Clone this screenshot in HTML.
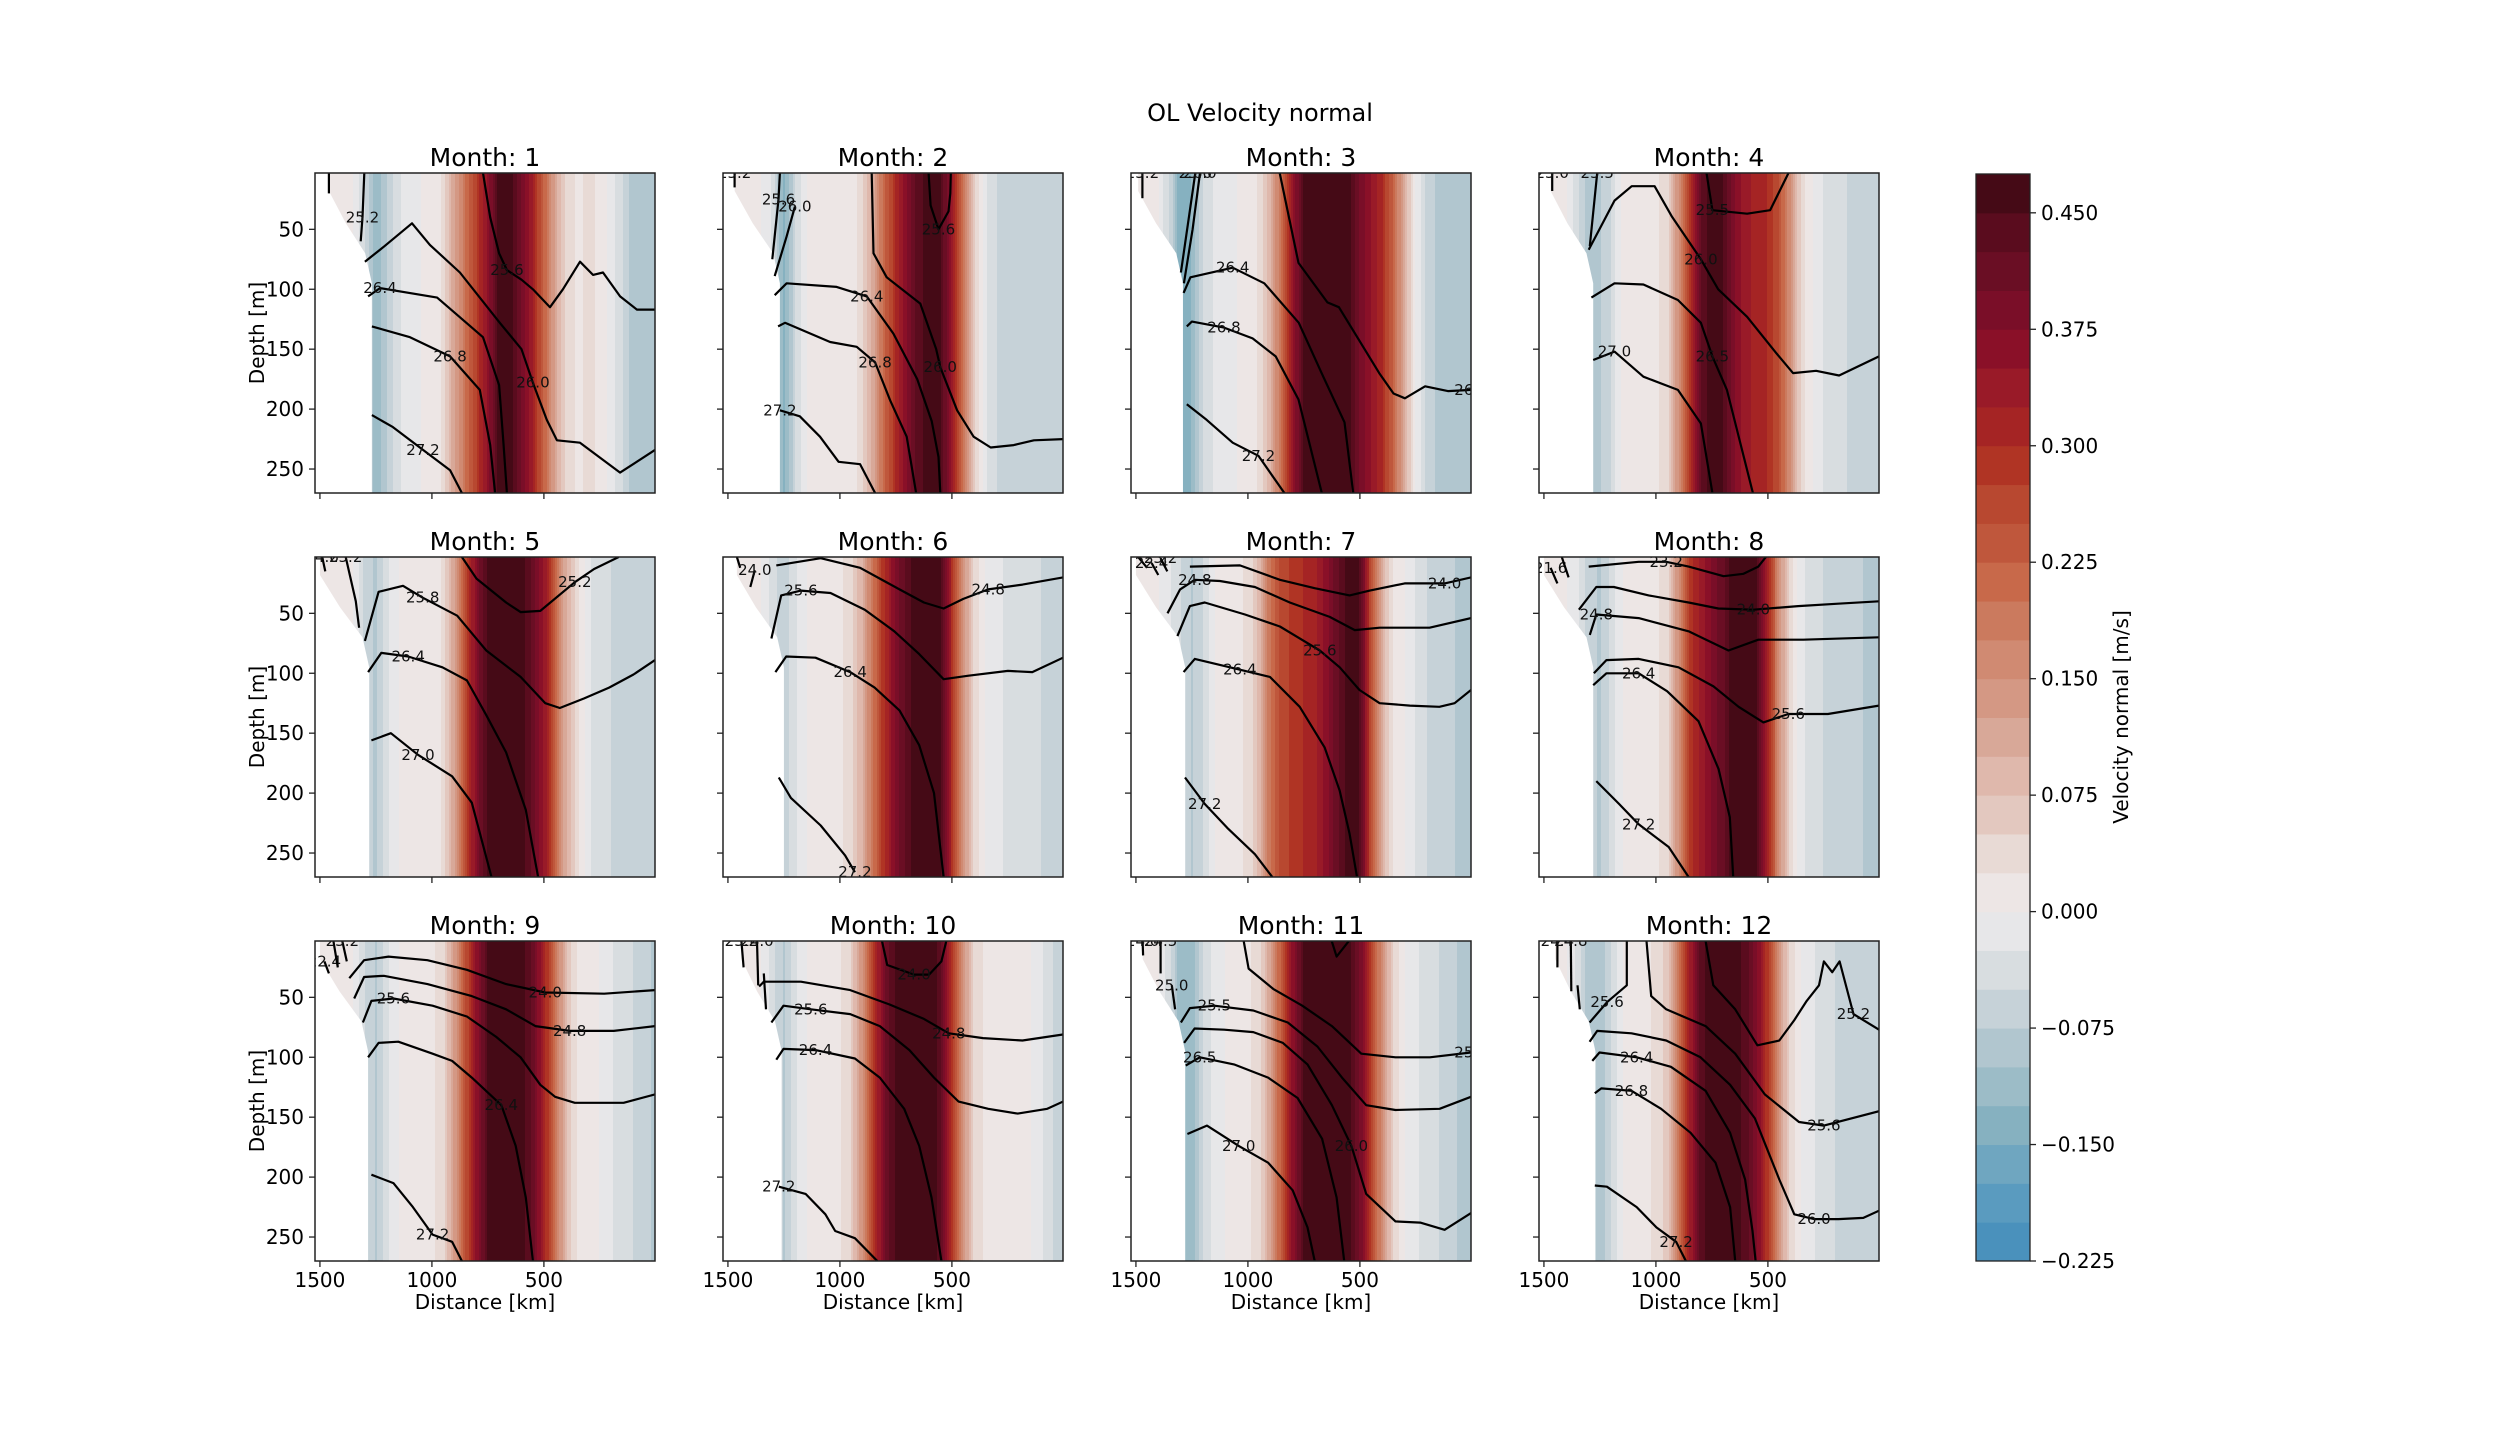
<!DOCTYPE html>
<html><head><meta charset="utf-8"><style>
html,body{margin:0;padding:0;background:#fff;}
svg{display:block;font-family:"DejaVu Sans","Liberation Sans",sans-serif;}
</style></head><body>
<svg id="fig" width="2520" height="1440" viewBox="0 0 2520 1440" xmlns="http://www.w3.org/2000/svg">
<rect width="2520" height="1440" fill="#fff"/>
<text x="1260" y="121" text-anchor="middle" font-size="24">OL Velocity normal</text>
<g id="panels"></g>
<g id="cbar"></g>
</svg>
<script>
// ---- data ----
const months = [1,2,3,4,5,6,7,8,9,10,11,12];
const profileKm = [1500,1450,1400,1350,1300,1250,1200,1150,1100,1050,1000,950,900,850,800,750,700,650,600,550,500,450,400,350,300,250,200,150,100,50,0];
const velM1 = [0,0,0,0,-0.05,-0.12,-0.07,-0.03,-0.01,0,0,0.03,0.12,0.2,0.28,0.36,0.46,0.47,0.4,0.32,0.22,0.12,0.04,0.02,0.03,0.02,-0.01,-0.05,-0.09,-0.1,-0.1];
const velM2 = [0,0,0,0,-0.03,-0.14,-0.05,0,0.01,0.01,0.01,0.01,0.04,0.12,0.22,0.3,0.38,0.44,0.47,0.45,0.35,0.2,0.06,-0.02,-0.05,-0.06,-0.06,-0.07,-0.07,-0.07,-0.07];
const velM3 = [0,0,0,-0.05,-0.15,-0.12,-0.05,-0.02,-0.01,0,0.01,0.03,0.1,0.2,0.35,0.45,0.47,0.47,0.47,0.47,0.4,0.35,0.3,0.22,0.1,0,-0.06,-0.08,-0.09,-0.09,-0.08];
const velM4 = [0,0,0,-0.04,-0.1,-0.08,-0.05,0.01,0.02,0.01,0.02,0.04,0.15,0.28,0.42,0.47,0.45,0.38,0.33,0.32,0.3,0.25,0.15,0.04,0,-0.03,-0.04,-0.05,-0.06,-0.07,-0.07];
const velM5 = [0,0,0,0,-0.06,-0.08,-0.03,0,0.01,0.01,0.01,0.03,0.12,0.25,0.38,0.46,0.47,0.47,0.46,0.42,0.35,0.22,0.1,0.03,-0.02,-0.04,-0.05,-0.06,-0.07,-0.07,-0.06];
const velM6 = [0,0,0,0,-0.04,-0.07,-0.03,0,0.01,0.02,0.02,0.04,0.1,0.2,0.3,0.38,0.44,0.47,0.47,0.45,0.3,0.15,0.04,0,-0.02,-0.03,-0.04,-0.04,-0.05,-0.06,-0.06];
const velM7 = [0,0,0,-0.02,-0.05,-0.08,-0.05,0,0.01,0.02,0.03,0.08,0.2,0.26,0.28,0.3,0.32,0.36,0.42,0.47,0.45,0.25,0.1,0.02,0,-0.03,-0.05,-0.06,-0.07,-0.08,-0.1];
const velM8 = [0,0,0,-0.02,-0.06,-0.08,-0.04,0,0.01,0.01,0.02,0.04,0.15,0.28,0.33,0.38,0.42,0.47,0.47,0.46,0.32,0.15,0.04,-0.02,-0.04,-0.05,-0.05,-0.06,-0.07,-0.08,-0.09];
const velM9 = [0,0,0,0,-0.05,-0.08,-0.03,0,0.01,0.01,0.02,0.04,0.13,0.25,0.36,0.45,0.47,0.47,0.47,0.42,0.32,0.2,0.08,0.02,0.01,0,-0.02,-0.04,-0.05,-0.07,-0.08];
const velM10 = [0,0,0,0,-0.04,-0.08,-0.03,0,0.01,0.01,0.02,0.05,0.15,0.28,0.4,0.46,0.47,0.47,0.47,0.44,0.3,0.15,0.04,0.02,0.02,0.02,0.01,0,-0.02,-0.05,-0.07];
const velM11 = [0,0,0,-0.04,-0.12,-0.12,-0.05,-0.01,0,0.01,0.02,0.04,0.12,0.24,0.36,0.45,0.47,0.47,0.47,0.47,0.4,0.28,0.15,0.05,0,-0.02,-0.04,-0.05,-0.06,-0.08,-0.1];
const velM12 = [0,0,0,-0.03,-0.1,-0.1,-0.05,0,0.01,0.02,0.03,0.06,0.18,0.32,0.44,0.47,0.47,0.47,0.44,0.38,0.28,0.14,0.04,0,-0.02,-0.04,-0.05,-0.05,-0.06,-0.06,-0.05];
const velocity = [velM1,velM2,velM3,velM4,velM5,velM6,velM7,velM8,velM9,velM10,velM11,velM12];
const maskSurfKm = [1460,1470,1490,1470,1500,1460,1500,1500,1500,1440,1470,1450];
const maskDeepKm = [1268,1268,1290,1280,1280,1250,1280,1280,1285,1260,1280,1270];
const yTicks = [50,100,150,200,250];
const xTicks = [1500,1000,500];
const cbTicks = [-0.225,-0.150,-0.075,0.000,0.075,0.150,0.225,0.300,0.375,0.450];

const ctM1 = [
 ['25.6',3,[[772,3],[740,40],[700,70],[665,84],[600,92],[549,100],[473,115],[415,100],[339,77],[281,88],[236,86],[160,106],[85,117],[4,117]]],
 ['26.0',7,[[1299,77],[1218,65],[1089,45],[1009,63],[875,86],[697,128],[600,150],[549,178],[487,209],[442,226],[339,228],[160,253],[4,234]]],
 ['26.4',1,[[1285,106],[1232,99],[977,107],[772,140],[700,180],[680,230],[665,270]]],
 ['26.8',2,[[1268,131],[1098,140],[919,156],[786,184],[740,230],[718,270]]],
 ['27.2',2,[[1268,205],[1174,215],[1040,234],[919,251],[866,270]]],
 ['25.2',1,[[1302,3],[1310,40],[1318,60]]],
 ['',0,[[1460,3],[1460,20]]]
];
const ctM2 = [
 ['25.6',2,[[604,3],[595,30],[560,50],[515,35],[507,20],[505,3]]],
 ['26.0',5,[[858,3],[850,70],[791,90],[641,112],[570,150],[552,165],[477,201],[403,223],[327,232],[224,230],[134,226],[4,225]]],
 ['26.4',3,[[1291,105],[1238,95],[1015,98],[880,106],[761,137],[655,175],[590,210],[560,240],[552,270]]],
 ['26.8',4,[[1276,131],[1245,128],[1044,144],[925,148],[843,161],[775,193],[702,223],[660,270]]],
 ['27.2',0,[[1268,201],[1179,206],[1089,223],[1006,244],[910,246],[843,270]]],
 ['25.6',1,[[1268,3],[1274,25],[1302,75]]],
 ['26.0',0,[[1201,31],[1238,56],[1291,89]]],
 ['25.2',0,[[1470,3],[1470,15]]]
];
const ctM3 = [
 ['26.0',9,[[858,3],[774,78],[645,111],[594,115],[414,170],[350,187],[299,191],[209,181],[107,185],[4,184]]],
 ['26.4',2,[[1287,103],[1257,90],[1068,82],[927,95],[773,128],[671,170],[569,211],[530,270]]],
 ['26.8',2,[[1273,131],[1250,127],[1107,132],[979,141],[876,156],[774,192],[670,270]]],
 ['27.2',3,[[1273,196],[1184,209],[1068,228],[953,239],[837,270]]],
 ['25.2',0,[[1471,3],[1471,24]]],
 ['25.6',0,[[1235,3],[1299,86]]],
 ['26.0',0,[[1214,3],[1247,50],[1286,95]]]
];
const ctM4 = [
 ['25.5',1,[[774,3],[748,34],[593,37],[490,34],[408,3]]],
 ['26.0',5,[[1300,67],[1185,26],[1108,14],[1006,14],[930,39],[799,75],[722,100],[593,123],[464,153],[388,170],[285,168],[182,172],[4,156]]],
 ['26.5',5,[[1288,107],[1185,95],[1056,96],[902,109],[799,128],[748,156],[683,184],[567,270]]],
 ['27.0',1,[[1280,159],[1185,152],[1056,173],[902,184],[799,212],[748,270]]],
 ['25.0',0,[[1463,3],[1463,18]]],
 ['25.5',0,[[1262,3],[1295,64]]]
];
const ctM5 = [
 ['25.2',5,[[866,3],[801,21],[669,41],[604,49],[516,48],[362,24],[276,13],[166,3]]],
 ['25.8',3,[[1299,73],[1238,32],[1129,27],[1041,37],[887,52],[757,81],[604,103],[494,125],[429,129],[320,121],[209,112],[100,101],[4,89]]],
 ['26.4',2,[[1285,99],[1226,83],[1106,86],[953,95],[844,106],[757,135],[669,166],[581,214],[526,270]]],
 ['27.0',2,[[1270,156],[1183,150],[1062,168],[910,186],[822,208],[734,270]]],
 ['24.6',0,[[1490,3],[1476,15]]],
 ['25.2',0,[[1385,3],[1340,40],[1325,62]]]
];
const ctM6 = [
 ['24.8',7,[[1284,10],[1086,4],[910,12],[734,30],[625,41],[537,46],[449,38],[338,30],[185,26],[4,20]]],
 ['25.6',2,[[1306,71],[1262,35],[1174,31],[1042,33],[889,47],[757,65],[646,84],[537,105],[426,102],[250,98],[141,99],[4,87]]],
 ['26.4',3,[[1288,99],[1240,86],[1109,87],[954,99],[845,112],[734,131],[646,160],[580,200],[537,270]]],
 ['27.2',4,[[1273,187],[1219,204],[1086,227],[977,252],[933,266]]],
 ['',0,[[1460,3],[1445,12]]],
 ['24.0',0,[[1380,14],[1400,28]]]
];
const ctM7 = [
 ['24.0',7,[[1259,11],[1036,10],[857,22],[702,29],[546,35],[456,31],[300,25],[122,25],[4,20]]],
 ['24.8',2,[[1359,50],[1303,30],[1237,22],[1125,23],[969,28],[813,41],[635,53],[523,64],[412,62],[189,62],[4,54]]],
 ['25.6',5,[[1315,69],[1259,44],[1193,41],[1013,51],[857,61],[679,81],[590,95],[502,114],[412,125],[277,127],[145,128],[77,125],[4,114]]],
 ['26.4',2,[[1287,99],[1237,88],[1036,97],[902,103],[769,128],[657,162],[590,198],[546,234],[513,270]]],
 ['27.2',1,[[1281,187],[1193,209],[1092,229],[969,251],[891,270]]],
 ['',0,[[1490,3],[1450,12]]],
 ['22.4',0,[[1430,8],[1400,18]]],
 ['23.2',0,[[1390,4],[1360,15]]]
];
const ctM8 = [
 ['23.2',2,[[1300,11],[1077,7],[954,7],[854,11],[698,19],[609,17],[543,11],[509,3]]],
 ['24.0',6,[[1344,47],[1266,28],[1188,28],[1032,35],[854,41],[721,46],[565,47],[365,44],[187,42],[4,40]]],
 ['24.8',1,[[1295,68],[1266,51],[1077,54],[854,65],[676,81],[543,72],[342,72],[4,70]]],
 ['25.6',7,[[1277,100],[1221,89],[1077,88],[899,95],[743,111],[631,128],[520,141],[409,134],[232,134],[4,127]]],
 ['26.4',2,[[1280,110],[1221,100],[1077,100],[950,115],[810,140],[720,180],[670,220],[655,270]]],
 ['27.2',2,[[1266,190],[1165,209],[1077,226],[943,245],[854,270]]],
 ['21.6',0,[[1470,12],[1440,25]]],
 ['',0,[[1420,3],[1390,20]]]
];
const ctM9 = [
 ['24.0',6,[[1369,34],[1303,19],[1194,16],[1020,19],[844,27],[669,39],[494,46],[231,47],[4,44]]],
 ['24.8',7,[[1347,51],[1303,33],[1215,32],[1020,39],[822,49],[669,60],[538,74],[385,78],[188,78],[4,74]]],
 ['25.6',2,[[1308,71],[1270,53],[1172,51],[997,57],[844,66],[713,83],[604,100],[516,123],[450,133],[362,138],[144,138],[4,131]]],
 ['26.4',6,[[1285,100],[1238,88],[1150,87],[997,97],[910,103],[822,117],[690,140],[626,174],[581,217],[549,270]]],
 ['27.2',3,[[1270,198],[1172,205],[1085,225],[997,248],[910,254],[866,270]]],
 ['22.4',0,[[1480,20],[1460,30]]],
 ['',0,[[1440,3],[1420,25]]],
 ['23.2',0,[[1400,3],[1380,20]]]
];
const ctM10 = [
 ['24.0',2,[[812,3],[789,23],[669,31],[602,31],[547,20],[525,3]]],
 ['24.8',6,[[1361,41],[1340,37],[1174,37],[954,44],[778,56],[625,68],[514,80],[361,84],[185,86],[4,81]]],
 ['25.6',2,[[1306,71],[1252,57],[1130,60],[954,64],[822,74],[690,94],[580,117],[470,137],[338,143],[206,147],[74,143],[4,137]]],
 ['26.4',2,[[1284,102],[1252,93],[1109,94],[933,101],[822,117],[713,143],[646,174],[591,217],[547,270]]],
 ['27.2',0,[[1273,208],[1153,214],[1065,231],[1021,245],[933,251],[833,270]]],
 ['23.2',0,[[1440,3],[1430,25]]],
 ['24.0',0,[[1370,3],[1365,40]]],
 ['',0,[[1340,30],[1330,60]]]
];
const ctM11 = [
 ['',0,[[626,3],[604,16],[549,3]]],
 ['25.0',8,[[1019,3],[997,26],[887,43],[757,57],[625,74],[494,97],[341,100],[188,100],[4,96]]],
 ['25.5',2,[[1299,71],[1259,59],[1150,57],[976,61],[822,71],[690,91],[580,117],[472,140],[341,144],[144,143],[4,133]]],
 ['26.0',7,[[1285,88],[1238,76],[1106,77],[976,79],[844,88],[734,106],[625,140],[538,174],[472,214],[341,237],[231,238],[122,244],[4,230]]],
 ['26.5',1,[[1278,107],[1215,100],[1062,106],[910,117],[778,134],[669,168],[604,217],[570,270]]],
 ['27.0',2,[[1270,164],[1183,157],[1041,174],[910,188],[800,211],[734,242],[702,270]]],
 ['24.0',0,[[1470,3],[1468,15]]],
 ['24.5',0,[[1390,3],[1390,30]]],
 ['25.0',0,[[1340,40],[1325,60]]]
];
const ctM12 = [
 ['25.2',11,[[778,3],[744,40],[646,60],[547,90],[449,86],[382,69],[327,53],[272,40],[250,20],[213,29],[180,20],[118,64],[4,77]]],
 ['25.6',1,[[1296,71],[1218,54],[1130,40],[1130,3]]],
 ['25.6',7,[[1042,3],[1021,49],[954,60],[778,74],[646,97],[514,131],[361,154],[250,157],[4,145]]],
 ['26.0',9,[[1296,87],[1262,78],[1109,80],[954,86],[801,100],[669,123],[558,151],[449,202],[382,231],[294,235],[185,235],[74,234],[4,228]]],
 ['26.4',2,[[1284,103],[1252,96],[1086,100],[933,108],[778,128],[669,163],[602,202],[569,245],[555,270]]],
 ['26.8',2,[[1273,130],[1244,126],[1109,128],[977,143],[845,163],[734,188],[669,225],[646,270]]],
 ['27.2',4,[[1273,207],[1219,208],[1086,225],[998,242],[910,254],[866,270]]],
 ['24.4',0,[[1440,3],[1440,25]]],
 ['24.8',0,[[1380,3],[1378,45]]],
 ['',0,[[1350,40],[1340,60]]]
];
const contours = [ctM1,ctM2,ctM3,ctM4,ctM5,ctM6,ctM7,ctM8,ctM9,ctM10,ctM11,ctM12];

// ---- style ----
const palette = ['#4a91bc','#5a9bbf','#6fa6c0','#86b1c0','#9cbcc7','#b1c6cf','#c6d2d8','#d8dde0','#e7e7e9','#ede6e5','#e8dad5','#e3c8bf','#dfb8ac','#d8a898','#d49884','#d08a72','#cb7a5e','#c8694a','#bf573c','#b84830','#b03424','#a52424','#991a28','#8a1028','#7a0e28','#6a0e24','#5a0c1e','#450a16'];
const VMIN=-0.225, STEP=0.025;
const colX=[315,723,1131,1539], rowY=[173,557,941], PW=340, PH=320;
const KM0=1522, KM1=4, D0=3, D1=270;
const NS='http://www.w3.org/2000/svg';
function mk(tag, attrs, parent){const e=document.createElementNS(NS,tag);for(const k in attrs)e.setAttribute(k,attrs[k]);if(parent)parent.appendChild(e);return e;}
function colorFor(v){let i=Math.floor((v-VMIN)/STEP);if(i<0)i=0;if(i>27)i=27;return palette[i];}
function interpV(arr, km){
  for(let i=0;i<profileKm.length-1;i++){const a=profileKm[i],b=profileKm[i+1];
    if(km<=a&&km>=b){const t=(a-km)/(a-b);return arr[i]+(arr[i+1]-arr[i])*t;}}
  return km>profileKm[0]?arr[0]:arr[arr.length-1];
}

const panelsG=document.getElementById('panels');
const defs=mk('defs',{},document.getElementById('fig'));
months.forEach((m,idx)=>{
  const c=idx%4, r=Math.floor(idx/4);
  const x0=colX[c], y0=rowY[r];
  const sx=km=>x0+(KM0-km)*PW/(KM0-KM1);
  const sy=d=>y0+(d-D0)*PH/(D1-D0);
  const g=mk('g',{},panelsG);
  
  
  const cp=mk('clipPath',{id:'clip'+m},defs);
  mk('rect',{x:x0,y:y0,width:PW,height:PH},cp);
  const field=mk('g',{'clip-path':'url(#clip'+m+')'},g);
  
  
  let runStart=x0, runCol=null;
  const vel=velocity[idx];
  for(let px=x0;px<=x0+PW;px+=2){
    const km=KM0-(px-x0+1)*(KM0-KM1)/PW;
    const col=colorFor(interpV(vel,km));
    if(col!==runCol||px>=x0+PW){
      if(runCol!==null){const rc=mk('rect',{x:runStart,y:y0,width:px-runStart+0.6,height:PH,fill:runCol},field);
        
        }
      runStart=px;runCol=col;
    }
  }
  const sK=maskSurfKm[idx], dK=maskDeepKm[idx];
  const mpts=[[KM0,D0],[sK,D0],[sK,18],[(sK+dK)/2+20,45],[dK+30,70],[dK,95],[dK,D1],[KM0,D1]];
  const mask=mk('polygon',{points:mpts.map(p=>sx(p[0])+','+sy(p[1])).join(' '),fill:'#fff'},field);
  
  
  contours[idx].forEach(ct=>{
    const [lab,li,pts]=ct;
    const d=pts.map((p,i)=>(i?'L':'M')+sx(p[0]).toFixed(1)+' '+sy(p[1]).toFixed(1)).join(' ');
    const pl=mk('path',{d:d,fill:'none',stroke:'#000','stroke-width':2.2,'stroke-linejoin':'round'},field);
    
    
    if(lab){
      const p=pts[Math.min(li,pts.length-1)];
      const t=mk('text',{x:sx(p[0]),y:sy(p[1])+5,'font-size':15,'text-anchor':'middle',fill:'#111'},field);
      t.textContent=lab;
      
      
    }
  });
  const fr=mk('rect',{x:x0,y:y0,width:PW,height:PH,fill:'none',stroke:'#222','stroke-width':1.5},g);
  
  
  const tt=mk('text',{x:x0+PW/2,y:y0-7,'text-anchor':'middle','font-size':25},g);
  tt.textContent='Month: '+m;
  
  
  yTicks.forEach(v=>{
    const y=sy(v);
    const tk=mk('line',{x1:x0-6,x2:x0,y1:y,y2:y,stroke:'#222','stroke-width':1.3},g);
    
    
    if(c===0){const tl=mk('text',{x:x0-11,y:y+7,'text-anchor':'end','font-size':20},g);
      tl.textContent=v;
      
      }
  });
  xTicks.forEach(v=>{
    const x=sx(v);
    const tk=mk('line',{x1:x,x2:x,y1:y0+PH,y2:y0+PH+6,stroke:'#222','stroke-width':1.3},g);
    
    
    if(r===2){const tl=mk('text',{x:x,y:y0+PH+26,'text-anchor':'middle','font-size':20},g);
      tl.textContent=v;
      
      }
  });
  if(c===0){const yl=mk('text',{x:0,y:0,'text-anchor':'middle','font-size':20,transform:'translate(264,'+(y0+PH/2)+') rotate(-90)'},g);
    yl.textContent='Depth [m]';
    
    }
  if(r===2){const xl=mk('text',{x:x0+PW/2,y:y0+PH+48,'text-anchor':'middle','font-size':20},g);
    xl.textContent='Distance [km]';
    
    }
});

const cb=document.getElementById('cbar');
const CBX=1976, CBW=54, CBT=174, CBB=1261;
const cy=v=>CBB-(v-VMIN)/(palette.length*STEP)*(CBB-CBT);
palette.forEach((col,i)=>{
  const v0=VMIN+i*STEP;
  const rr=mk('rect',{x:CBX,y:cy(v0+STEP),width:CBW,height:cy(v0)-cy(v0+STEP)+0.5,fill:col},cb);
  
  
});
const cbf=mk('rect',{x:CBX,y:CBT,width:CBW,height:CBB-CBT,fill:'none',stroke:'#222','stroke-width':1.3},cb);


cbTicks.forEach(v=>{
  const y=cy(v);
  const tk=mk('line',{x1:CBX+CBW,x2:CBX+CBW+6,y1:y,y2:y,stroke:'#222','stroke-width':1.3},cb);
  
  
  const tl=mk('text',{x:CBX+CBW+11,y:y+7,'font-size':20},cb);
  tl.textContent=(v<0?'\u2212':'')+Math.abs(v).toFixed(3);
  
  
});
const cbl=mk('text',{x:0,y:0,'text-anchor':'middle','font-size':20,transform:'translate(2128,717) rotate(-90)'},cb);
cbl.textContent='Velocity normal [m/s]';


</script>
</body></html>
